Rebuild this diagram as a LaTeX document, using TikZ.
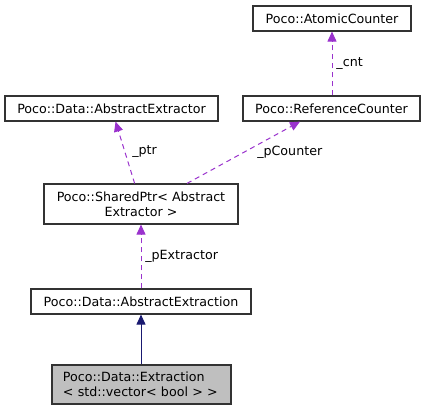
\documentclass[tikz,border=0pt]{standalone}
\usepackage{fontspec}
\setmainfont{DejaVu Sans}
\usetikzlibrary{arrows.meta}
\definecolor{edgepurple}{HTML}{9A32CD}
\definecolor{edgeblue}{HTML}{191970}
\definecolor{boxgray}{HTML}{BFBFBF}
\definecolor{boxline}{HTML}{333333}
\tikzset{
  cls/.style={draw=boxline, line width=0.9pt, inner sep=0pt, align=center,
    font=\fontsize{9.5}{11.25}\selectfont},
  usage/.style={draw=edgepurple, line width=0.75pt, dash pattern=on 3.75pt off 3pt,
    -{Triangle[length=7.5pt,width=6.75pt,fill=edgepurple]}},
  inherit/.style={draw=edgeblue, line width=0.75pt,
    -{Triangle[length=7.5pt,width=6.75pt,fill=edgeblue]}},
  lbl/.style={anchor=west, inner sep=0pt, font=\fontsize{9.5}{11.25}\selectfont}
}
\begin{document}
\begin{tikzpicture}[x=0.75pt,y=-0.75pt]
\useasboundingbox (0,0) rectangle (426,411);
\node[cls, minimum width=158*0.75pt, minimum height=25*0.75pt] (ac) at (332,18.5) {Poco::AtomicCounter};
\node[cls, minimum width=213*0.75pt, minimum height=25*0.75pt] (ae) at (111.5,108.5) {Poco::Data::AbstractExtractor};
\node[cls, minimum width=177*0.75pt, minimum height=25*0.75pt] (rc) at (331.5,108.5) {Poco::ReferenceCounter};
\node[cls, minimum width=194*0.75pt, minimum height=40*0.75pt] (sp) at (141,204) {Poco::SharedPtr< Abstract\\Extractor >};
\node[cls, minimum width=220*0.75pt, minimum height=25*0.75pt] (an) at (141,301.5) {Poco::Data::AbstractExtraction};
\node[cls, fill=boxgray, align=left, text width=157*0.75pt, inner xsep=11*0.75pt, minimum height=39*0.75pt] (ex) at (141.5,384.5) {Poco::Data::Extraction\\< std::vector< bool > >};

\draw[usage] (rc.north -| ac.south) -- (ac.south) node[lbl, pos=0.5, xshift=4*0.75pt] (lcnt) {\_cnt};
\draw[usage] (sp) -- (ae);
\node[lbl] (lptr) at (132,152) {\_ptr};
\draw[usage] ([xshift=46*0.75pt]sp.north) -- ([xshift=-31.5*0.75pt]rc.south);
\node[lbl] (lpc) at (257,152) {\_pCounter};
\draw[usage] (an.north) -- (sp.south);
\node[lbl] (lpe) at (145,256) {\_pExtractor};
\draw[inherit] (ex.north -| an.south) -- (an.south);
\end{tikzpicture}
\end{document}
